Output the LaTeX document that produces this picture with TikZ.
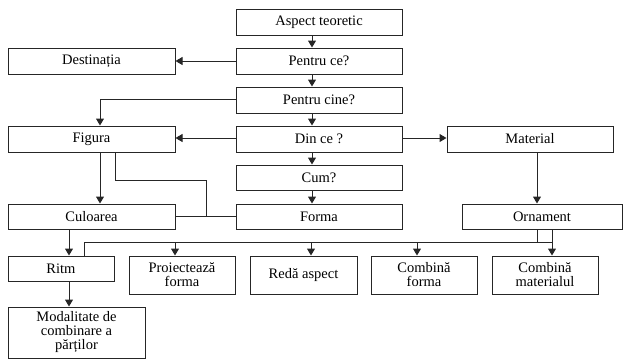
\documentclass[tikz,border=0pt]{standalone}
\usepackage{fontspec}
\setmainfont{Liberation Serif}
\usetikzlibrary{arrows.meta,calc}
\begin{document}
\begin{tikzpicture}[x=1pt,y=-1pt,
  box/.style={draw=black!85,line width=1pt,rectangle,inner sep=0pt,align=center,
    font=\fontsize{14.5}{14}\selectfont},
  con/.style={draw=black!85,line width=1pt},
  arr/.style={con,-{Triangle[width=8pt,length=7pt]}}]
\useasboundingbox (0,0) rectangle (623,360);
\node[box,minimum width=166pt,minimum height=26pt] (asp) at (319,22) {Aspect teoretic};
\node[box,minimum width=166pt,minimum height=26pt] (pce) at (319,61) {Pentru ce?};
\node[box,minimum width=167pt,minimum height=26pt] (dest) at (91.5,61) {Destinația};
\node[box,minimum width=166pt,minimum height=26pt] (pcine) at (319,100) {Pentru cine?};
\node[box,minimum width=167pt,minimum height=26pt] (fig) at (91.5,139) {Figura};
\node[box,minimum width=166pt,minimum height=26pt] (dince) at (319,139) {Din ce ?};
\node[box,minimum width=166pt,minimum height=26pt] (mat) at (530,139) {Material};
\node[box,minimum width=166pt,minimum height=25pt] (cum) at (319,177.5) {Cum?};
\node[box,minimum width=166pt,minimum height=25pt] (forma) at (319,216.5) {Forma};
\node[box,minimum width=167pt,minimum height=25pt] (cul) at (91.5,216.5) {Culoarea};
\node[box,minimum width=160pt,minimum height=25pt] (orn) at (542,216.5) {Ornament};
\node[box,minimum width=106pt,minimum height=25pt] (ritm) at (61,268.5) {Ritm};
\node[box,minimum width=106pt,minimum height=38pt] (proi) at (182,275) {Proiectează\\forma};
\node[box,minimum width=107pt,minimum height=38pt] (reda) at (303.5,275) {Redă aspect};
\node[box,minimum width=106pt,minimum height=38pt] (cf) at (424,275) {Combină\\forma};
\node[box,minimum width=106pt,minimum height=38pt] (cm) at (545,275) {Combină\\materialul};
\node[box,minimum width=137pt,minimum height=51pt] (mod) at (76.5,332.5) {Modalitate de\\combinare a\\părților};
% main column
\draw[arr] ([xshift=-7pt]asp.south) -- ([xshift=-7pt]pce.north);
\draw[arr] ([xshift=-7pt]pce.south) -- ([xshift=-7pt]pcine.north);
\draw[arr] ([xshift=-7pt]pcine.south) -- ([xshift=-7pt]dince.north);
\draw[arr] ([xshift=-7pt]dince.south) -- ([xshift=-7pt]cum.north);
\draw[arr] ([xshift=-7pt]cum.south) -- ([xshift=-7pt]forma.north);
\draw[arr] (pce.west) -- (dest.east);
\draw[arr] ([yshift=1pt]pcine.west) -| ([xshift=8.5pt]fig.north);
\draw[arr] ([yshift=1pt]dince.west) -- ([yshift=1pt]fig.east);
\draw[arr] ([yshift=1pt]dince.east) -- ([yshift=1pt]mat.west);
\draw[arr] ([xshift=8.5pt]fig.south) -- ([xshift=8.5pt]cul.north);
\draw[arr] ([xshift=7pt]mat.south) -- ([xshift=7pt]mat.south |- orn.north);
% Figura - Culoarea/Forma link
\draw[con] (cul.east) -- (forma.west);
\coordinate (j) at ($(cul.east)!0.5!(forma.west)$);
\coordinate (k) at (206,180);
\draw[con] ([xshift=23.5pt]fig.south) |- (k) -- (k |- j);
% Culoarea - Ritm - Modalitate
\draw[arr] ([xshift=-22.5pt]cul.south) -- ([xshift=-22.5pt]cul.south |- ritm.north);
\draw[arr] ([xshift=8pt]ritm.south) -- ([xshift=8pt]ritm.south |- mod.north);
% bus
\coordinate (busL) at (84,242);
\coordinate (busR) at (552,242);
\draw[con] (busL |- ritm.north) -- (busL) -- (busR);
\draw[arr] ([xshift=-7pt]proi.north |- busL) -- ([xshift=-7pt]proi.north);
\draw[arr] ([xshift=7.5pt]reda.north |- busL) -- ([xshift=7.5pt]reda.north);
\draw[arr] ([xshift=-7pt]cf.north |- busL) -- ([xshift=-7pt]cf.north);
\draw[con] ([xshift=-5pt]orn.south) -- ([xshift=-5pt]orn.south |- busL);
\draw[arr] ([xshift=10pt]orn.south) -- ([xshift=10pt]orn.south |- cm.north);
\end{tikzpicture}
\end{document}
